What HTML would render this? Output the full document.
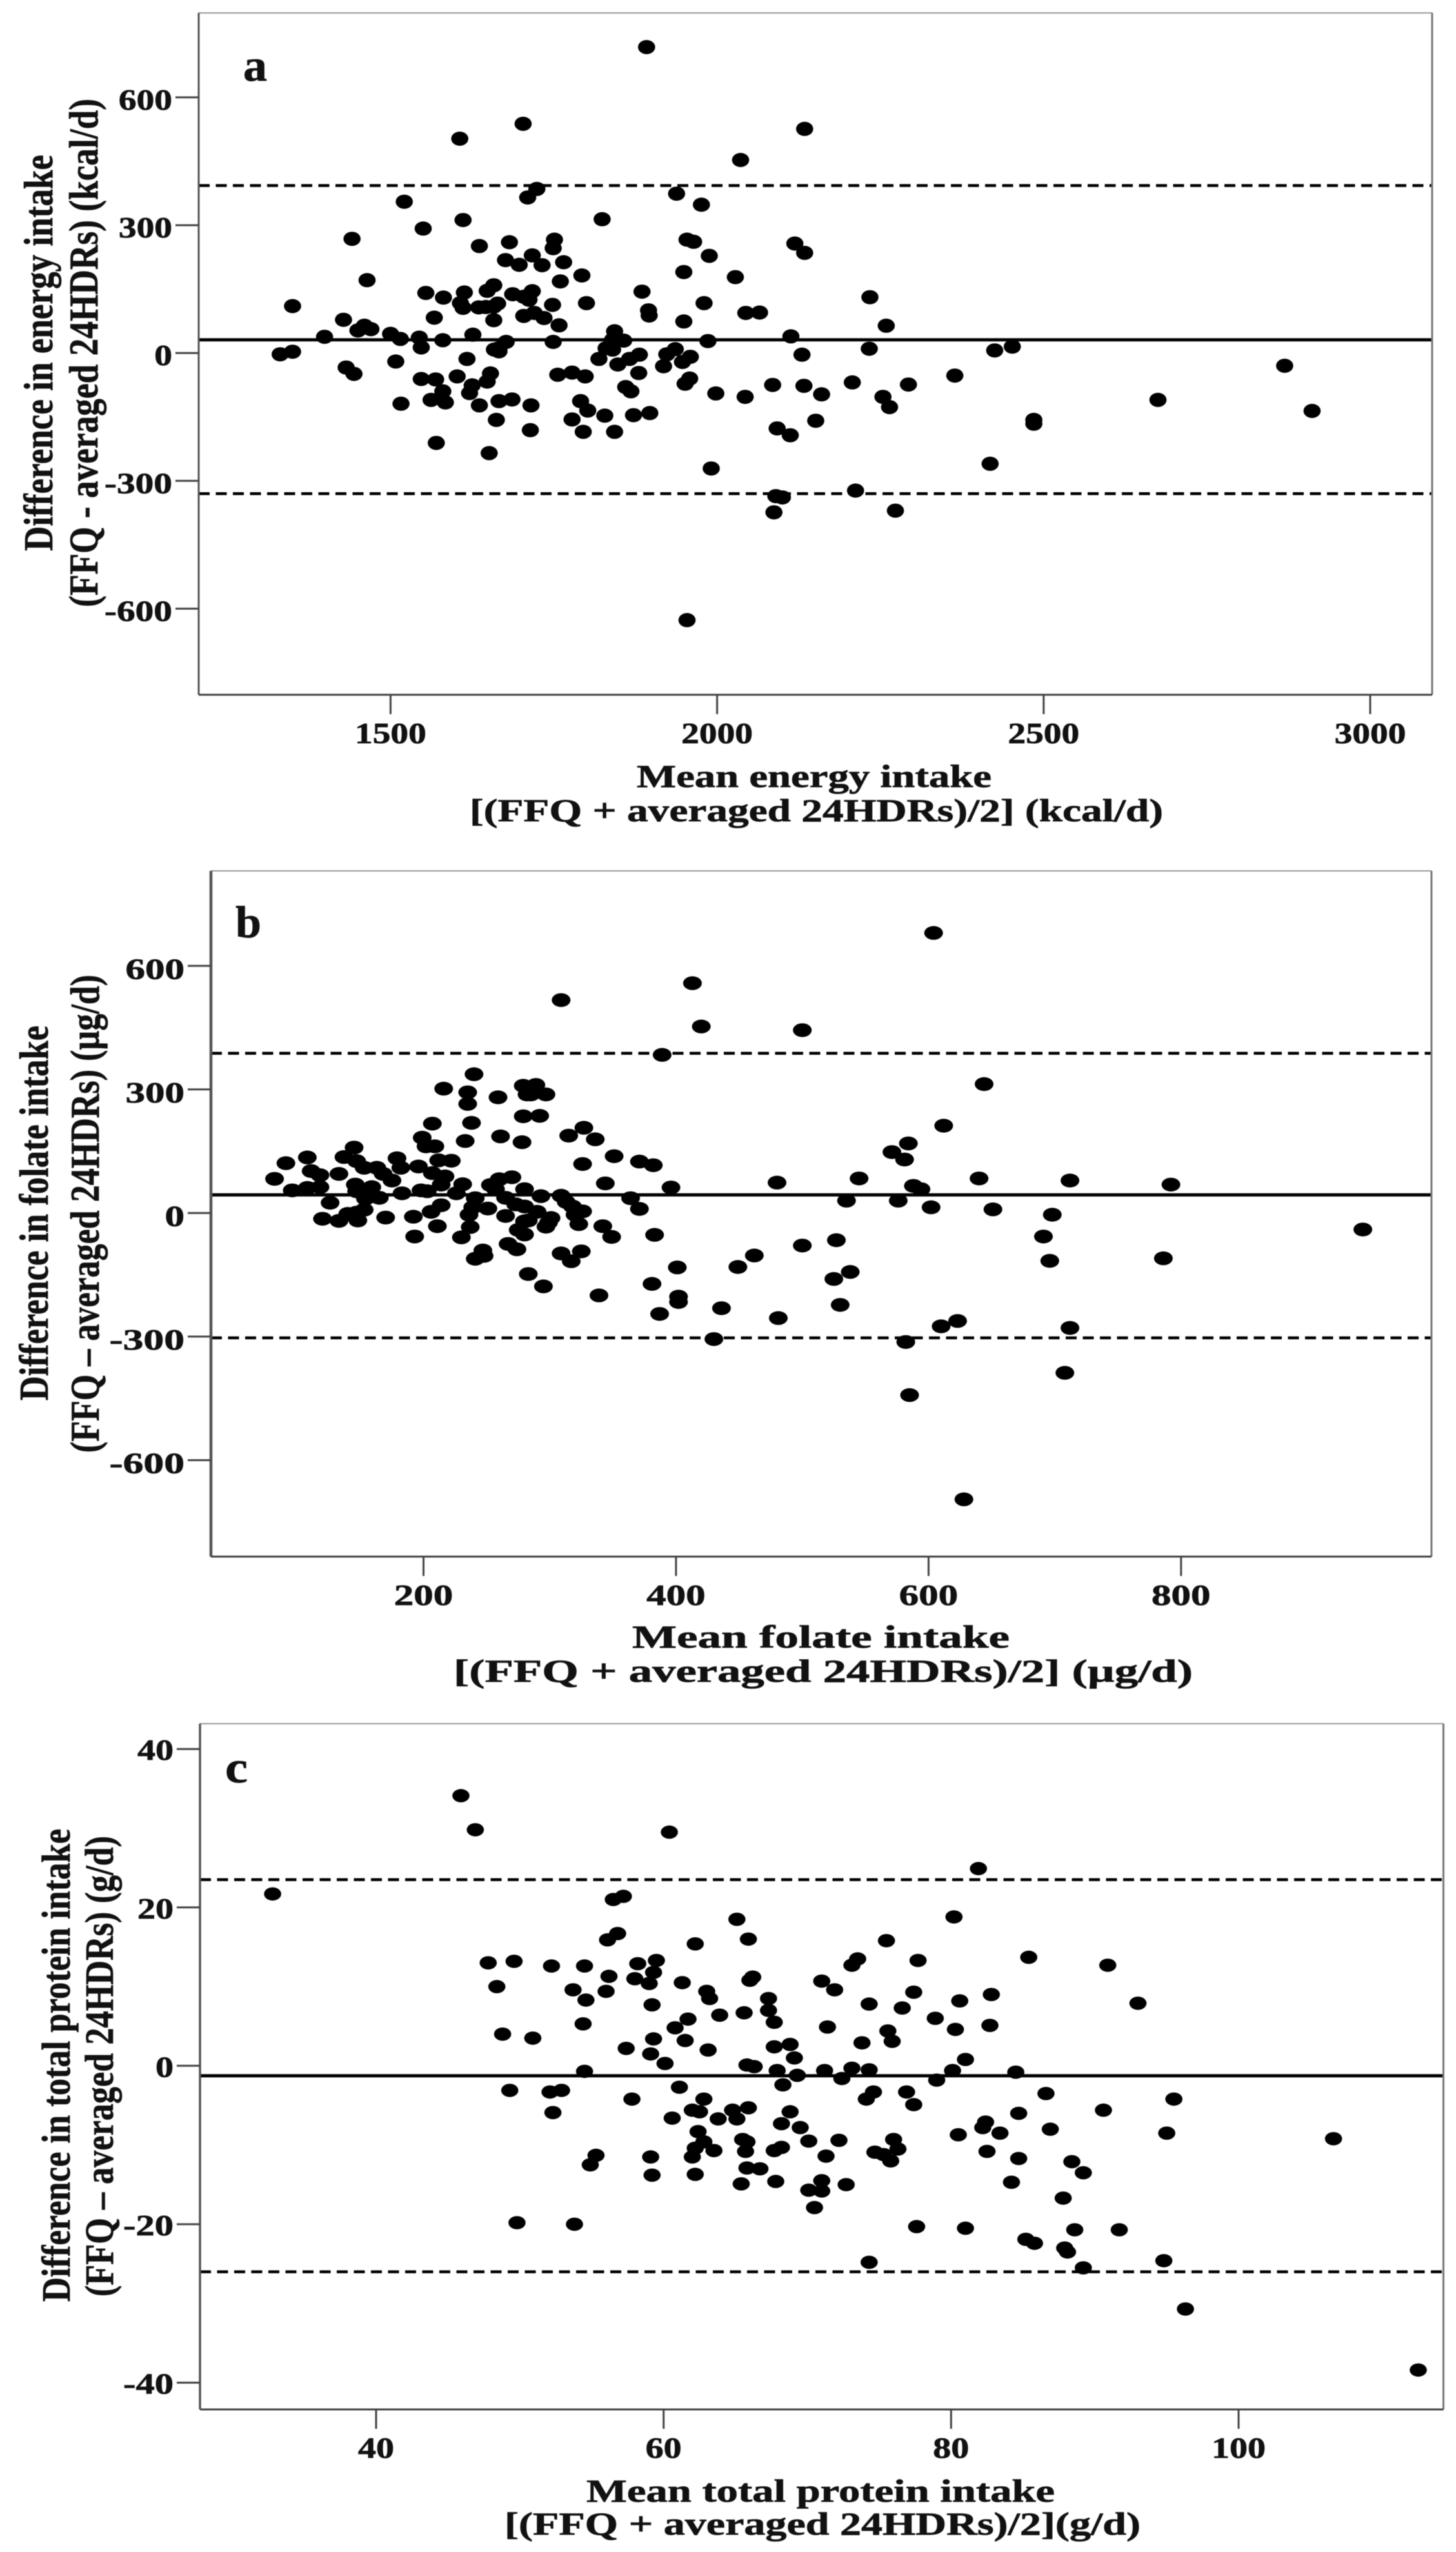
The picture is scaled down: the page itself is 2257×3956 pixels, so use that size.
<!DOCTYPE html>
<html>
<head>
<meta charset="utf-8">
<title>Bland-Altman plots</title>
<style>
html,body{margin:0;padding:0;background:#fff}
svg{display:block;filter:blur(0.6px)}
text{font-family:"Liberation Serif","DejaVu Serif",serif;font-weight:bold;fill:#111;stroke:#111;stroke-width:0.7px}
</style>
</head>
<body>
<svg id="figure" width="2257" height="3956" viewBox="0 0 2257 3956" xmlns="http://www.w3.org/2000/svg">
<rect x="0" y="0" width="2257" height="3956" fill="#fff"/>

<g id="panel-a"></g>
<g id="panel-b"></g>
<g id="panel-c"></g>

<text x="377" y="125" font-size="70" textLength="37" lengthAdjust="spacingAndGlyphs">a</text>
<text x="987" y="1220" font-size="50" textLength="550" lengthAdjust="spacingAndGlyphs">Mean energy intake</text>
<text x="728" y="1273" font-size="50" textLength="1075" lengthAdjust="spacingAndGlyphs">[(FFQ + averaged 24HDRs)/2] (kcal/d)</text>
<text transform="translate(81,854) rotate(-90)" font-size="64" textLength="614" lengthAdjust="spacingAndGlyphs">Difference in energy intake</text>
<text transform="translate(151,941) rotate(-90)" font-size="64" textLength="788" lengthAdjust="spacingAndGlyphs">(FFQ - averaged 24HDRs) (kcal/d)</text>

<text x="365" y="1453" font-size="70" textLength="40" lengthAdjust="spacingAndGlyphs">b</text>
<text x="980" y="2554" font-size="50" textLength="585" lengthAdjust="spacingAndGlyphs">Mean folate intake</text>
<text x="703" y="2607" font-size="50" textLength="1146" lengthAdjust="spacingAndGlyphs">[(FFQ + averaged 24HDRs)/2] (µg/d)</text>
<text transform="translate(74,2171) rotate(-90)" font-size="64" textLength="581" lengthAdjust="spacingAndGlyphs">Difference in folate intake</text>
<text transform="translate(153,2252) rotate(-90)" font-size="64" textLength="741" lengthAdjust="spacingAndGlyphs">(FFQ – averaged 24HDRs) (µg/d)</text>

<text x="349" y="2763" font-size="70" textLength="35" lengthAdjust="spacingAndGlyphs">c</text>
<text x="909" y="3878" font-size="50" textLength="726" lengthAdjust="spacingAndGlyphs">Mean total protein intake</text>
<text x="782" y="3929" font-size="50" textLength="986" lengthAdjust="spacingAndGlyphs">[(FFQ + averaged 24HDRs)/2](g/d)</text>
<text transform="translate(108,3568) rotate(-90)" font-size="62" textLength="733" lengthAdjust="spacingAndGlyphs">Difference in total protein intake</text>
<text transform="translate(175,3560) rotate(-90)" font-size="62" textLength="714" lengthAdjust="spacingAndGlyphs">(FFQ – averaged 24HDRs) (g/d)</text>
</svg>

<script>
var energyXTicks = [1500, 2000, 2500, 3000];
var energyYTicks = [600, 300, 0, -300, -600];
var energyLines = [393, 31, -330];
var energyPoints = [
[1892,718],[1703,538],[1606,503],[1724,385],[1710,365],[1521,355],[1938,374],[1976,348],[1611,312],[1824,314],
[1550,292],[1954,266],[1964,261],[1988,228],[1949,190],[1885,144],[1895,100],[1896,88],[1980,117],[1350,110],
[1949,74],[1986,28],[1936,9],[1923,-3],[1959,-9],[1947,-21],[1918,-31],[1331,-3],[1350,3],[1897,-141],
[1951,-72],[1958,-60],[1998,-95],[1991,-271],[1954,-627],
[1441,268],[1464,171],[1428,78],[1450,53],[1460,64],[1470,56],[1399,38],[1500,45],[1515,33],[1544,36],
[1547,13],[1580,30],[1554,141],[1581,130],[1613,142],[1607,117],[1611,106],[1635,107],[1646,108],[1658,109],
[1664,116],[1648,146],[1658,159],[1636,251],[1682,260],[1751,266],[1749,246],[1717,229],[1676,218],[1697,207],
[1732,206],[1765,213],[1793,182],[1760,168],[1800,117],[1687,138],[1717,145],[1704,132],[1712,125],[1748,113],
[1658,77],[1704,87],[1720,94],[1735,82],[1758,65],[1567,83],[1626,43],[1677,26],[1666,11],[1666,4],
[1659,8],[1749,26],[1843,51],[1857,29],[1840,31],[1830,11],[1840,8],[1819,-14],[1848,-27],[1866,-14],
[1881,-4],[1508,-20],[1432,-34],[1444,-49],[1617,-14],[1602,-55],[1653,-48],[1648,-67],[1547,-61],[1569,-62],
[1625,-76],[1621,-94],[1580,-90],[1562,-110],[1584,-116],[1516,-119],[1636,-123],[1666,-113],[1686,-109],[1715,-123],
[1756,-51],[1778,-46],[1798,-55],[1880,-47],[1860,-80],[1868,-90],[1791,-113],[1802,-135],[1828,-147],[1778,-156],
[1662,-157],[1714,-181],[1795,-185],[1843,-185],[1872,-146],[1570,-211],[1651,-235],
[2134,526],[2036,453],[2119,257],[2134,235],[2028,178],[2044,94],[2065,95],[2234,131],[2259,64],[2113,39],
[2233,10],[2130,-4],[2085,-75],[2133,-77],[2160,-97],[2207,-69],[2293,-74],[2254,-103],[2264,-127],[2043,-103],
[2151,-159],[2092,-177],[2112,-193],[2364,-53],[2425,6],[2452,15],[2869,-30],[2675,-110],[2911,-136],[2485,-157],
[2485,-166],[2418,-260],[2212,-323],[2090,-336],[2100,-339],[2087,-374],[2273,-370]
];

var folateXTicks = [200, 400, 600, 800];
var folateYTicks = [600, 300, 0, -300, -600];
var folateLines = [388, 44, -303];
var folatePoints = [
[309,517],[413,558],[420,453],[389,384],
[240,337],[216,302],[235,293],[235,265],[259,281],[279,309],[282,288],[279,235],[207,217],[238,219],
[261,186],[233,175],[278,172],[199,183],[202,162],[209,162],[145,159],[91,121],[108,135],[137,136],
[179,133],[212,128],[222,127],[111,102],[118,92],[133,95],[147,126],[153,110],[163,110],[182,110],
[196,113],[82,83],[96,55],[108,61],[118,63],[126,25],[146,69],[147,53],[159,63],[168,95],
[175,79],[154,35],[165,37],[183,48],[207,97],[217,89],[214,69],[198,55],[203,53],[226,48],
[231,70],[241,36],[253,68],[260,82],[270,87],[257,58],[280,58],[265,37],[273,21],[280,16],
[251,11],[239,14],[236,-4],[214,19],[206,3],[192,-9],[170,-11],[153,8],[147,1],[148,-18],
[133,-19],[120,-14],[140,-2],[265,-7],[237,-34],[211,-32],[193,-57],[230,-59],[280,-20],[275,-41],
[280,-52],[247,-91],[241,-111],[248,-104],[267,-75],[274,-88],[283,-148],
[289,311],[297,288],[285,288],[292,236],[327,207],[315,188],[336,179],[351,138],[326,119],[344,72],
[371,125],[382,116],[396,62],[364,36],[371,10],[293,41],[309,42],[313,27],[318,16],[326,4],
[320,-4],[323,-27],[290,3],[301,-12],[297,-33],[299,-23],[342,-32],[349,-58],[383,-53],[283,-18],
[309,-98],[317,-117],[325,-93],[401,-132],[295,-178],[381,-172],[339,-200],[402,-203],[402,-216],[387,-245],
[436,-231],[430,-306],
[604,680],[500,444],[644,313],[612,212],[584,169],[571,148],[581,130],[480,74],[545,84],[640,84],
[712,79],[792,69],[588,66],[594,58],[535,30],[576,30],[602,14],[651,9],[698,-4],[691,-57],
[527,-66],[500,-79],[696,-116],[462,-103],[449,-131],[538,-143],[525,-160],[786,-110],[944,-40],[530,-223],
[481,-255],[610,-275],[623,-262],[712,-279],[582,-313],[708,-388],[585,-442],[628,-695]
];

var proteinXTicks = [40, 60, 80, 100];
var proteinYTicks = [40, 20, 0, -20, -40];
var proteinLines = [23.5, -1.25, -26];
var proteinPoints = [
[45.9,34.1],[46.9,29.8],[60.4,29.5],[32.8,21.7],[56.5,21.0],[57.2,21.4],[56.8,16.7],[56.1,15.9],[62.2,15.4],[47.8,13.0],
[49.6,13.2],[52.2,12.6],[54.5,12.6],[58.2,12.9],[59.5,13.3],[59.3,11.8],[58.0,11.0],[59.0,10.4],[56.2,11.3],[48.4,10.0],
[53.7,9.6],[54.6,8.3],[56.0,9.4],[59.2,7.7],[61.3,10.5],[63.0,9.4],[63.2,8.5],[63.9,6.4],[61.7,5.9],[60.8,4.8],
[61.5,3.2],[54.4,5.3],[48.8,4.0],[50.9,3.5],[59.3,3.4],[59.1,1.5],[57.4,2.2],[63.1,2.0],[60.1,0.3],[54.5,-0.7],
[61.1,-2.7],[49.3,-3.1],[52.1,-3.3],[52.9,-3.1],[57.8,-4.2],[52.3,-5.9],[62.8,-4.2],[62.0,-5.6],[62.5,-5.8],[60.6,-6.6],
[63.8,-6.7],[62.4,-8.3],[62.8,-9.6],[62.2,-10.4],[63.5,-10.7],[62.0,-11.5],[55.3,-11.3],[54.9,-12.5],[59.1,-11.5],[59.2,-13.8],
[62.2,-13.7],[49.8,-19.8],[53.8,-20.0],[81.9,24.9],[80.2,18.8],[65.1,18.5],[65.9,16.0],[75.5,15.8],[77.7,13.3],[85.4,13.7],
[73.5,13.5],[73.1,12.7],[90.9,12.7],[71.0,10.7],[71.9,9.6],[66.2,11.2],[66.0,10.8],[67.3,8.5],[77.4,9.3],[82.8,9.0],
[80.6,8.2],[93.0,7.9],[74.3,7.8],[76.6,7.3],[67.3,7.0],[65.6,6.7],[78.9,6.0],[67.7,5.5],[71.4,4.9],[80.3,4.6],
[82.7,5.1],[75.6,4.4],[75.9,3.1],[73.8,2.9],[68.8,2.7],[67.7,2.4],[69.1,1.0],[81.0,0.8],[65.8,0.1],[66.3,-0.1],
[67.9,-0.6],[69.3,-1.2],[68.3,-2.4],[71.2,-0.6],[72.4,-1.6],[73.1,-0.3],[74.3,-0.5],[80.1,-0.6],[79.0,-1.8],[84.5,-0.8],
[74.6,-3.3],[74.1,-4.2],[76.9,-3.3],[77.4,-4.9],[86.6,-3.5],[95.5,-4.2],[90.6,-5.6],[84.7,-6.0],[65.9,-5.3],[64.8,-5.6],
[65.1,-6.7],[68.8,-5.8],[68.2,-7.3],[69.5,-7.8],[82.4,-7.1],[82.2,-7.8],[83.4,-8.5],[86.9,-8.0],[80.5,-8.7],[95.0,-8.5],
[106.6,-9.2],[65.5,-9.3],[65.8,-9.6],[70.1,-9.5],[72.2,-9.4],[76.0,-9.3],[76.3,-10.5],[68.2,-10.3],[67.7,-10.7],[65.7,-10.8],
[74.7,-10.9],[75.3,-11.2],[75.8,-12.0],[82.5,-10.8],[71.3,-11.4],[84.7,-11.7],[88.4,-12.1],[89.2,-13.5],[65.8,-12.9],[66.7,-13.0],
[65.4,-14.9],[67.8,-14.6],[71.0,-14.5],[71.0,-15.8],[70.1,-15.7],[72.7,-15.0],[84.2,-14.7],[70.5,-17.9],[87.8,-16.7],[77.6,-20.3],
[81.0,-20.5],[88.6,-20.7],[91.7,-20.7],[85.2,-21.9],[85.8,-22.4],[87.9,-23.0],[88.1,-23.5],[74.3,-24.8],[89.2,-25.5],[94.8,-24.6],
[96.3,-30.7],[112.5,-38.4]
];

var SVGNS = 'http://www.w3.org/2000/svg';

function make(tag, parent, attrs) {
  var el = document.createElementNS(SVGNS, tag);
  for (var k in attrs) { el.setAttribute(k, attrs[k]); }
  parent.appendChild(el);
  return el;
}

function linearScale(d0, d1, r0, r1) {
  return function (v) { return r0 + (v - d0) * (r1 - r0) / (d1 - d0); };
}

function labelWidth(value, digitW, dashW) {
  var s = String(Math.abs(value));
  return s.length * digitW + (value < 0 ? dashW : 0);
}

function drawPanel(id, key, box, xScale, yScale, xTicks, yTicks, refLines, points, style) {
  var g = document.getElementById(id);

  points.forEach(function (p) {
    var dot = make('ellipse', g, { cx: xScale(p[0]).toFixed(1), cy: yScale(p[1]).toFixed(1), rx: style.rx, ry: style.ry, fill: '#000' });
    
    
  });

  refLines.forEach(function (v, i) {
    var isMean = i === 1;
    var attrs = { x1: box.left, x2: box.right, y1: yScale(v).toFixed(1), y2: yScale(v).toFixed(1), stroke: '#000', 'stroke-width': isMean ? 5 : 4.5 };
    if (!isMean) { attrs['stroke-dasharray'] = '17 9.5'; }
    var line = make('line', g, attrs);
    
    
  });

  var top = make('line', g, { x1: box.left, x2: box.right, y1: box.top, y2: box.top, stroke: '#999', 'stroke-width': 2 });
  
  
  var right = make('line', g, { x1: box.right, x2: box.right, y1: box.top, y2: box.bottom, stroke: '#777', 'stroke-width': 3 });
  
  
  var left = make('line', g, { x1: box.left, x2: box.left, y1: box.top, y2: box.bottom, stroke: '#555', 'stroke-width': style.leftAxisW });
  
  
  var bottom = make('line', g, { x1: box.left, x2: box.right, y1: box.bottom, y2: box.bottom, stroke: '#444', 'stroke-width': 3 });
  
  

  xTicks.forEach(function (v) {
    var x = xScale(v).toFixed(1);
    var t = make('line', g, { x1: x, x2: x, y1: box.bottom, y2: box.bottom + 30, stroke: '#444', 'stroke-width': 3 });
    
    
    var lab = make('text', g, { x: x, y: box.bottom + style.xLabelOffset, 'font-size': 45, 'text-anchor': 'middle', textLength: labelWidth(v, style.digitW, style.dashW), lengthAdjust: 'spacingAndGlyphs' });
    lab.textContent = String(v);
    
    
  });

  yTicks.forEach(function (v) {
    var y = yScale(v);
    var t = make('line', g, { x1: box.left - 36, x2: box.left, y1: y.toFixed(1), y2: y.toFixed(1), stroke: '#444', 'stroke-width': 3 });
    
    
    var lab = make('text', g, { x: box.left - 41, y: (y + style.yLabelOffset).toFixed(1), 'font-size': 45, 'text-anchor': 'end', textLength: labelWidth(v, style.digitW, style.dashW), lengthAdjust: 'spacingAndGlyphs' });
    lab.textContent = v < 0 ? '-' + Math.abs(v) : String(v);
    
    
  });
}

drawPanel('panel-a', 'energy',
  { left: 308, right: 2220, top: 20, bottom: 1077 },
  linearScale(1500, 3000, 605.4, 2124),
  linearScale(600, -600, 150.9, 943.5),
  energyXTicks, energyYTicks, energyLines, energyPoints,
  { digitW: 27.7, dashW: 22, xLabelOffset: 75, yLabelOffset: 19, rx: 13.3, ry: 11, leftAxisW: 3 });

drawPanel('panel-b', 'folate',
  { left: 327, right: 2219, top: 1350, bottom: 2413 },
  linearScale(200, 800, 656.5, 1830.8),
  linearScale(600, -600, 1497.3, 2263.5),
  folateXTicks, folateYTicks, folateLines, folatePoints,
  { digitW: 30.5, dashW: 25, xLabelOffset: 75, yLabelOffset: 20, rx: 14.5, ry: 10.7, leftAxisW: 4.5 });

drawPanel('panel-c', 'protein',
  { left: 310, right: 2237.5, top: 2672, bottom: 3735 },
  linearScale(40, 100, 583, 1920),
  linearScale(40, -40, 2711.2, 3693.5),
  proteinXTicks, proteinYTicks, proteinLines, proteinPoints,
  { digitW: 28, dashW: 22, xLabelOffset: 75, yLabelOffset: 17, rx: 13.3, ry: 10.3, leftAxisW: 3.5 });
</script>
</body>
</html>
